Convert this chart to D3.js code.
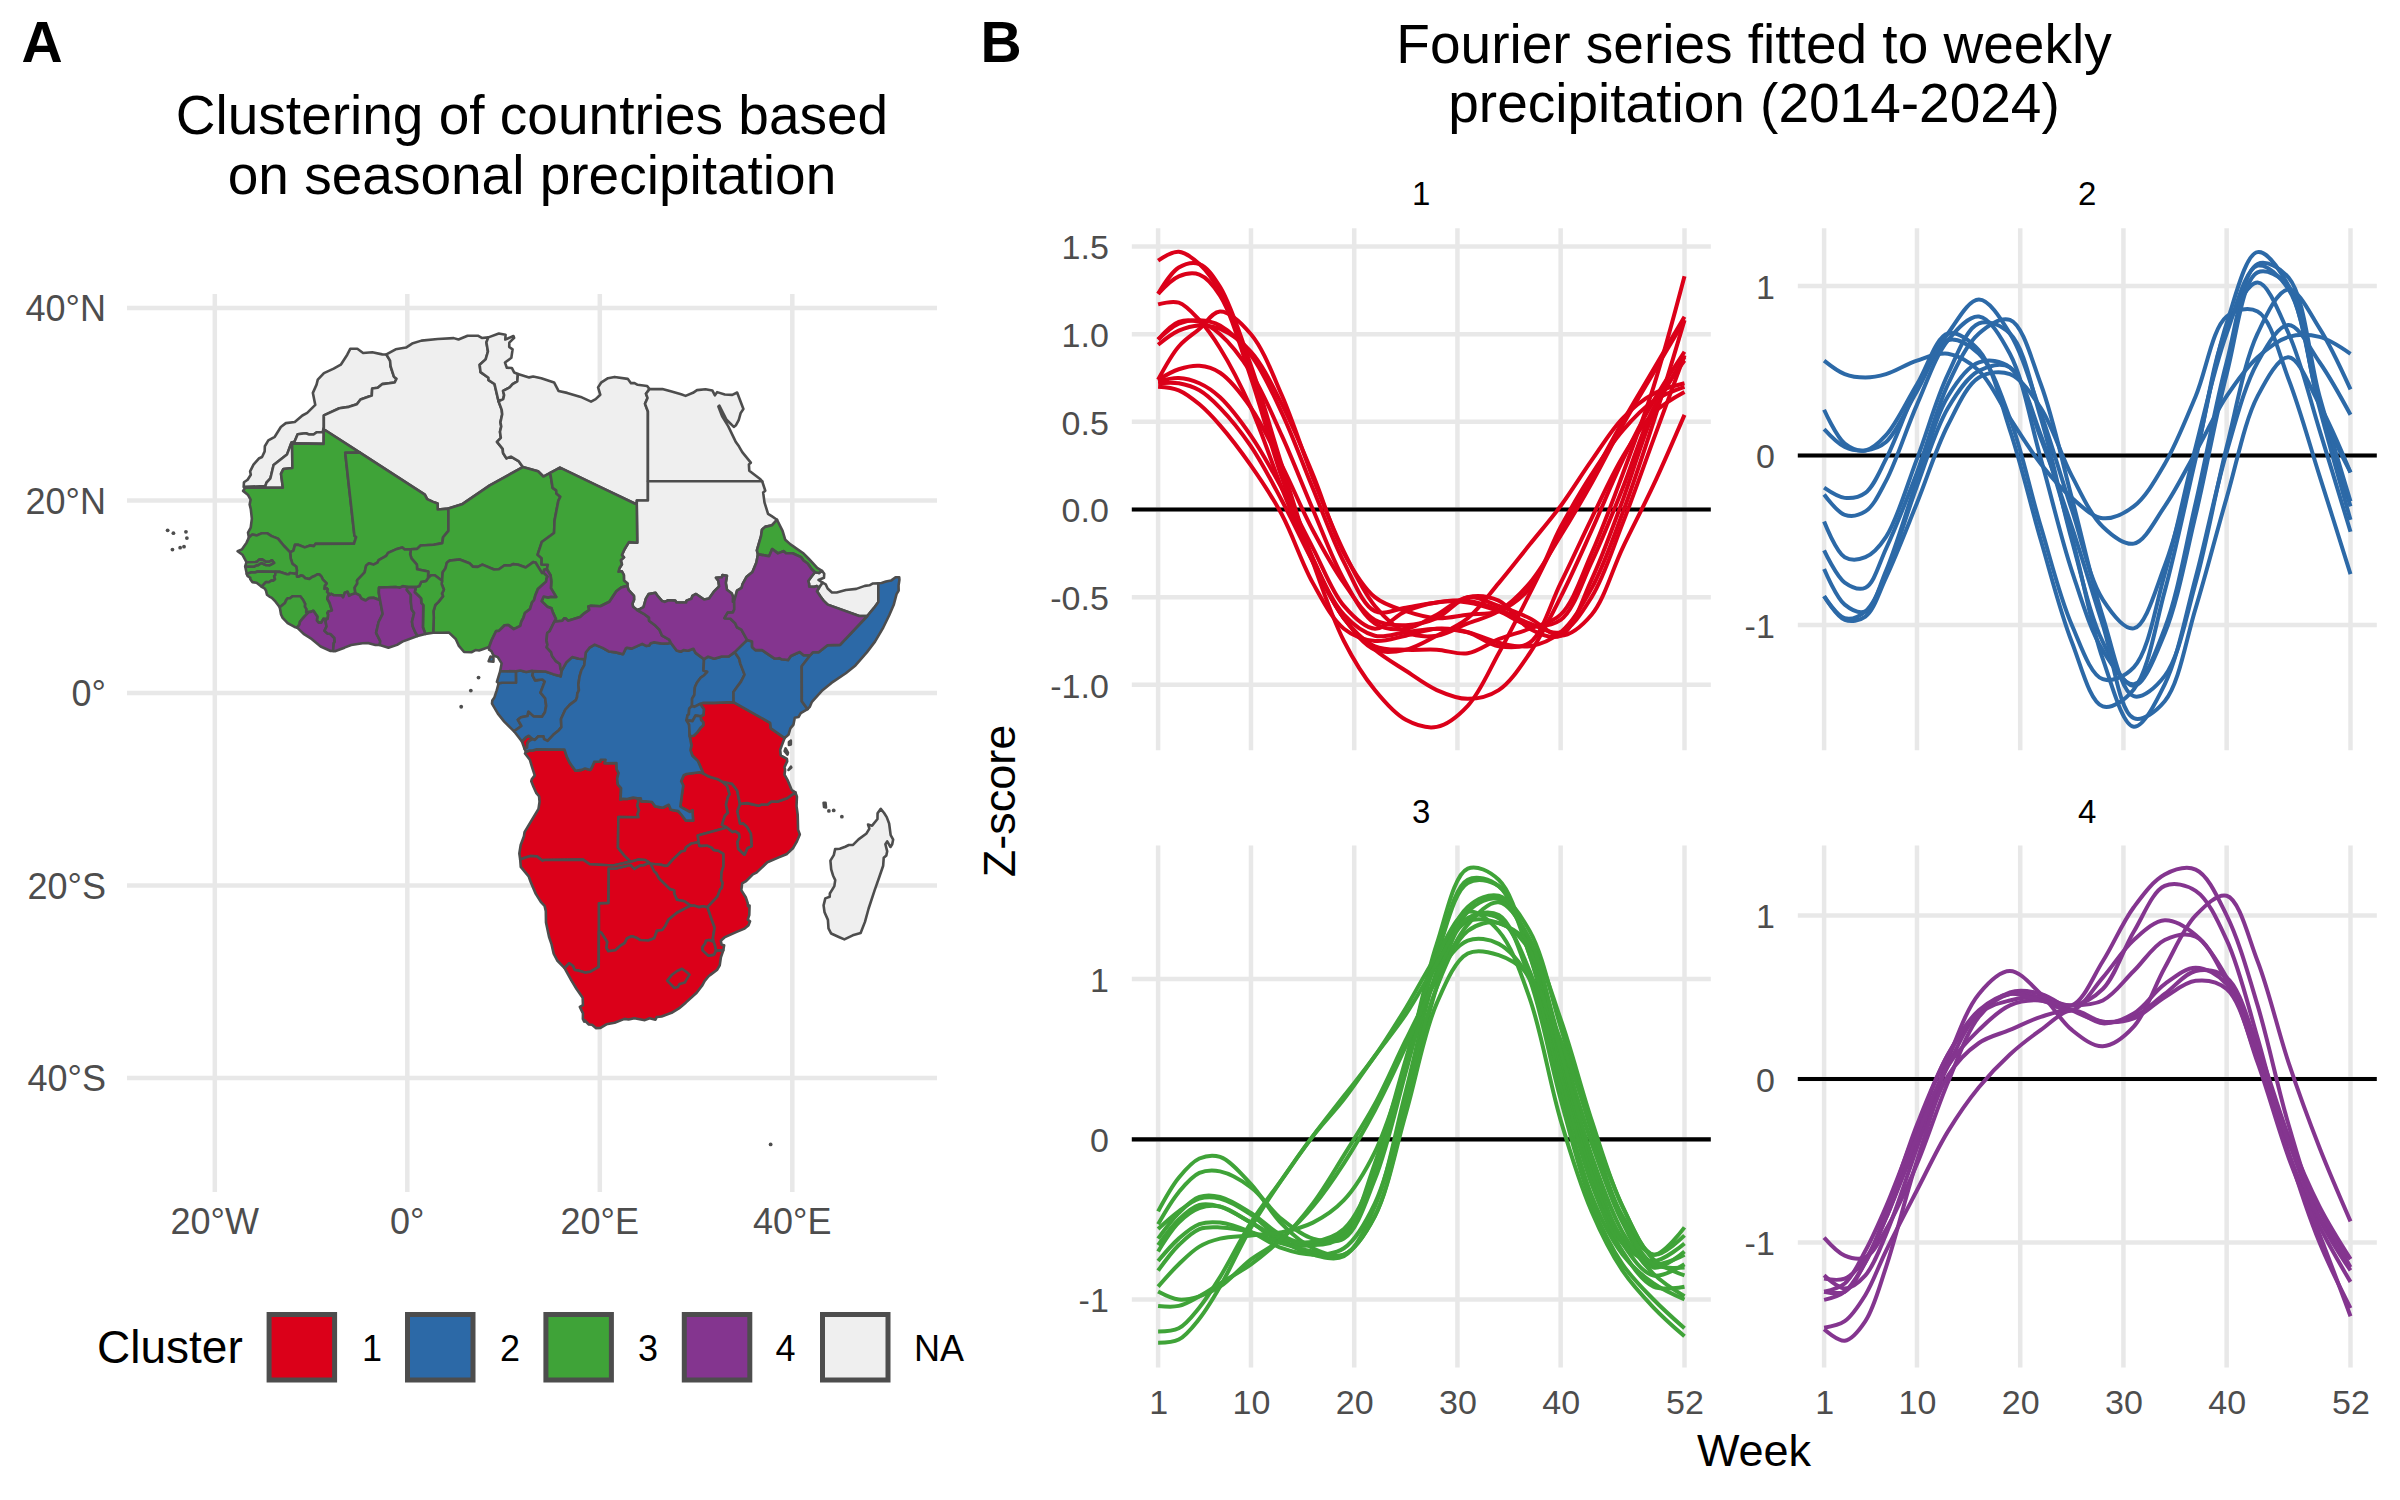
<!DOCTYPE html>
<html>
<head>
<meta charset="utf-8">
<script src="https://cdn.jsdelivr.net/npm/d3@7"></script>
<style>
html,body{margin:0;padding:0;background:#fff;}
text{font-family:"Liberation Sans",Arial,sans-serif;}
</style>
</head>
<body>
<div id="chart"></div>
<script>
// country outlines, lon/lat
var AGO=[[16.33,-5.88],[16.57,-6.62],[16.86,-7.22],[17.09,-7.55],[17.47,-8.07],[18.13,-7.99],[18.46,-7.85],[19.02,-7.99],[19.17,-7.74],[19.42,-7.16],[20.04,-7.12],[20.09,-6.94],[20.6,-6.94],[20.51,-7.3],[21.73,-7.29],[21.75,-7.92],[21.95,-8.31],[21.8,-8.91],[21.88,-9.52],[22.21,-9.89],[22.16,-11.08],[22.4,-10.99],[22.84,-11.02],[23.46,-10.87],[23.91,-10.93],[24.02,-11.24],[23.9,-11.72],[24.08,-12.19],[23.93,-12.57],[24.02,-12.91],[21.93,-12.9],[21.89,-16.08],[22.56,-16.9],[23.22,-17.52],[21.38,-17.93],[18.96,-17.79],[18.26,-17.31],[14.21,-17.35],[14.06,-17.42],[13.46,-16.97],[12.81,-16.94],[12.22,-17.11],[11.73,-17.3],[11.64,-16.67],[11.78,-15.79],[12.12,-14.88],[12.18,-14.45],[13.63,-12.04],[13.74,-11.3],[13.69,-10.73],[13.39,-10.37],[13.12,-9.77],[12.88,-9.17],[12.93,-8.96],[13.24,-8.56],[12.93,-7.6],[12.73,-6.93],[12.23,-6.29],[12.32,-6.1],[12.74,-5.97],[13.02,-5.98],[13.38,-5.86],[16.33,-5.88]];
var CABINDA=[[12.44,-5.68],[12.18,-5.79],[11.91,-5.04],[12.32,-4.61],[12.62,-4.44],[13,-4.78],[12.63,-4.99],[12.47,-5.25],[12.44,-5.68]];
var BEN=[[2.69,6.26],[1.87,6.14],[1.62,6.83],[1.66,9.13],[1.46,9.33],[1.43,9.83],[1.08,10.18],[.77,10.47],[.9,11],[1.24,11.11],[1.45,11.55],[1.94,11.64],[2.15,11.94],[2.49,12.23],[2.85,12.24],[3.61,11.66],[3.57,11.33],[3.8,10.73],[3.6,10.33],[3.71,10.06],[3.22,9.44],[2.91,9.14],[2.72,8.51],[2.75,7.87],[2.69,6.26]];
var BFA=[[-2.83,9.64],[-3.51,9.9],[-3.98,9.86],[-4.33,9.61],[-4.78,9.82],[-4.95,10.15],[-5.4,10.37],[-5.47,10.95],[-5.2,11.38],[-5.22,11.71],[-4.43,12.54],[-4.28,13.23],[-4.01,13.47],[-3.52,13.34],[-3.1,13.54],[-2.97,13.8],[-2.19,14.25],[-2,14.56],[-1.07,14.97],[-.52,15.12],[-.27,14.92],[.37,14.93],[.3,14.44],[.43,13.99],[.99,13.34],[1.02,12.85],[2.18,12.63],[2.15,11.94],[1.94,11.64],[1.45,11.55],[1.24,11.11],[.9,11],[.02,11.02],[-.44,11.1],[-.76,10.94],[-1.2,11.01],[-2.94,10.96],[-2.96,10.4],[-2.83,9.64]];
var BDI=[[29.34,-4.5],[29.28,-3.29],[29.02,-2.84],[29.63,-2.92],[29.94,-2.35],[30.47,-2.41],[30.53,-2.81],[30.74,-3.03],[30.75,-3.36],[30.51,-3.57],[30.12,-4.09],[29.75,-4.45],[29.34,-4.5]];
var BWA=[[25.65,-18.54],[25.85,-18.71],[26.16,-19.29],[27.3,-20.39],[27.72,-20.5],[27.73,-20.85],[28.02,-21.49],[28.79,-21.64],[29.43,-22.09],[28.02,-22.83],[27.12,-23.57],[26.79,-24.24],[26.49,-24.62],[25.94,-24.7],[25.77,-25.17],[25.66,-25.49],[25.03,-25.72],[24.21,-25.67],[23.73,-25.39],[23.31,-25.27],[22.82,-25.5],[22.58,-25.98],[22.11,-26.28],[21.61,-26.73],[20.89,-26.83],[20.67,-26.48],[20.76,-25.87],[20.17,-24.92],[19.9,-24.77],[19.9,-21.85],[20.88,-21.81],[20.91,-18.25],[21.66,-18.22],[23.2,-17.87],[23.58,-18.28],[24.22,-17.89],[24.52,-17.89],[25.08,-17.66],[25.26,-17.74],[25.65,-18.54]];
var CAF=[[15.28,7.42],[16.11,7.5],[16.29,7.75],[16.46,7.73],[16.71,7.51],[17.96,7.89],[18.39,8.28],[18.91,8.63],[18.81,8.98],[19.09,9.07],[20.06,9.01],[21,9.48],[21.72,10.57],[22.23,10.97],[22.86,11.14],[22.98,10.71],[23.55,10.09],[23.56,9.68],[23.39,9.27],[23.46,8.95],[23.81,8.67],[24.57,8.23],[25.11,7.83],[25.12,7.5],[25.8,6.98],[26.21,6.55],[26.47,5.95],[27.21,5.55],[27.37,5.23],[27.04,5.13],[26.4,5.15],[25.65,5.26],[25.28,5.17],[25.13,4.93],[24.81,4.9],[24.41,5.11],[23.3,4.61],[22.84,4.71],[22.7,4.63],[22.41,4.03],[21.66,4.22],[20.93,4.32],[20.29,4.69],[19.47,5.03],[18.93,4.71],[18.54,4.2],[18.45,3.5],[17.81,3.56],[17.13,3.73],[16.54,3.2],[16.01,2.27],[15.91,2.56],[15.86,3.01],[15.41,3.34],[15.04,3.85],[14.95,4.21],[14.48,4.73],[14.56,5.03],[14.46,5.45],[14.54,6.23],[14.78,6.41],[15.28,7.42]];
var CIV=[[-2.86,4.99],[-3.31,4.98],[-4.01,5.18],[-4.65,5.17],[-5.83,4.99],[-6.53,4.71],[-7.52,4.34],[-7.71,4.36],[-7.64,5.19],[-7.54,5.31],[-7.57,5.71],[-7.99,6.13],[-8.31,6.19],[-8.6,6.47],[-8.39,6.91],[-8.49,7.4],[-8.44,7.69],[-8.28,7.69],[-8.22,8.12],[-8.3,8.32],[-8.2,8.46],[-7.83,8.58],[-8.08,9.38],[-8.31,9.79],[-8.23,10.13],[-8.03,10.21],[-7.9,10.3],[-7.62,10.15],[-6.85,10.14],[-6.67,9.94],[-6.49,10.41],[-6.21,10.52],[-6.05,10.1],[-5.82,10.22],[-5.4,10.37],[-4.95,10.15],[-4.78,9.82],[-4.33,9.61],[-3.98,9.86],[-3.51,9.9],[-2.83,9.64],[-2.56,8.22],[-2.98,7.38],[-3.24,6.25],[-2.81,5.39],[-2.86,4.99]];
var CMR=[[13.08,2.27],[12.95,2.32],[12.36,2.19],[11.75,2.33],[11.28,2.26],[9.65,2.28],[9.8,3.07],[9.4,3.73],[8.95,3.9],[8.74,4.35],[8.49,4.5],[8.5,4.77],[8.76,5.48],[9.23,6.44],[9.52,6.45],[10.12,7.04],[10.5,7.06],[11.06,6.64],[11.75,6.98],[11.84,7.4],[12.06,7.8],[12.22,8.31],[12.75,8.72],[12.96,9.42],[13.17,9.64],[13.31,10.16],[13.57,10.8],[14.42,11.57],[14.47,11.9],[14.58,12.09],[14.18,12.48],[14.21,12.8],[14.5,12.86],[14.89,12.22],[14.96,11.56],[14.92,10.89],[15.47,9.98],[14.91,9.99],[14.63,9.92],[14.17,10.02],[13.95,9.55],[14.54,8.97],[14.98,8.8],[15.12,8.38],[15.44,7.69],[15.28,7.42],[14.78,6.41],[14.54,6.23],[14.46,5.45],[14.56,5.03],[14.48,4.73],[14.95,4.21],[15.04,3.85],[15.41,3.34],[15.86,3.01],[15.91,2.56],[16.01,2.27],[15.94,1.73],[15.15,1.96],[14.34,2.23],[13.08,2.27]];
var COD=[[30.83,3.51],[30.77,2.34],[31.17,2.2],[30.85,1.85],[30.47,1.58],[30.09,1.06],[29.88,.6],[29.82,-.21],[29.59,-.59],[29.58,-1.34],[29.29,-1.62],[29.25,-2.22],[29.12,-2.29],[29.02,-2.84],[29.28,-3.29],[29.34,-4.5],[29.52,-5.42],[29.42,-5.94],[29.62,-6.52],[30.2,-7.08],[30.74,-8.34],[30.35,-8.24],[29,-8.41],[28.73,-8.53],[28.45,-9.16],[28.67,-9.61],[28.5,-10.79],[28.37,-11.79],[28.64,-11.97],[29.34,-12.36],[29.62,-12.18],[29.7,-13.26],[28.93,-13.25],[28.52,-12.7],[28.16,-12.27],[27.39,-12.13],[27.16,-11.61],[26.55,-11.92],[25.75,-11.78],[25.42,-11.33],[24.78,-11.24],[24.31,-11.26],[24.26,-10.95],[23.91,-10.93],[23.46,-10.87],[22.84,-11.02],[22.4,-10.99],[22.16,-11.08],[22.21,-9.89],[21.88,-9.52],[21.8,-8.91],[21.95,-8.31],[21.75,-7.92],[21.73,-7.29],[20.51,-7.3],[20.6,-6.94],[20.09,-6.94],[20.04,-7.12],[19.42,-7.16],[19.17,-7.74],[19.02,-7.99],[18.46,-7.85],[18.13,-7.99],[17.47,-8.07],[17.09,-7.55],[16.86,-7.22],[16.57,-6.62],[16.33,-5.88],[13.38,-5.86],[13.02,-5.98],[12.74,-5.97],[12.32,-6.1],[12.18,-5.79],[12.44,-5.68],[12.47,-5.25],[12.63,-4.99],[13,-4.78],[13.26,-4.88],[13.6,-4.5],[14.14,-4.51],[14.21,-4.79],[14.58,-4.97],[15.17,-4.34],[15.75,-3.86],[16.01,-3.54],[15.97,-2.71],[16.41,-1.74],[16.87,-1.23],[17.52,-.74],[17.64,-.42],[17.66,-.06],[17.83,.29],[17.77,.86],[17.9,1.74],[18.09,2.37],[18.39,2.9],[18.45,3.5],[18.54,4.2],[18.93,4.71],[19.47,5.03],[20.29,4.69],[20.93,4.32],[21.66,4.22],[22.41,4.03],[22.7,4.63],[22.84,4.71],[23.3,4.61],[24.41,5.11],[24.81,4.9],[25.13,4.93],[25.28,5.17],[25.65,5.26],[26.4,5.15],[27.04,5.13],[27.37,5.23],[27.98,4.41],[28.43,4.29],[28.7,4.46],[29.16,4.39],[29.72,4.6],[29.95,4.17],[30.83,3.51]];
var COG=[[13,-4.78],[12.62,-4.44],[12.32,-4.61],[11.91,-5.04],[11.09,-3.98],[11.86,-3.43],[11.48,-2.77],[11.82,-2.51],[12.5,-2.39],[12.58,-1.95],[13.11,-2.43],[13.99,-2.47],[14.3,-2],[14.43,-1.33],[14.32,-.55],[13.84,.04],[14.28,1.2],[14.03,1.4],[13.28,1.31],[13,1.83],[13.08,2.27],[14.34,2.23],[15.15,1.96],[15.94,1.73],[16.01,2.27],[16.54,3.2],[17.13,3.73],[17.81,3.56],[18.45,3.5],[18.39,2.9],[18.09,2.37],[17.9,1.74],[17.77,.86],[17.83,.29],[17.66,-.06],[17.64,-.42],[17.52,-.74],[16.87,-1.23],[16.41,-1.74],[15.97,-2.71],[16.01,-3.54],[15.75,-3.86],[15.17,-4.34],[14.58,-4.97],[14.21,-4.79],[14.14,-4.51],[13.6,-4.5],[13.26,-4.88],[13,-4.78]];
var DJI=[[43.08,12.7],[43.32,12.39],[43.29,11.97],[42.72,11.74],[43.15,11.46],[42.78,10.93],[42.55,11.11],[42.31,11.03],[41.76,11.05],[41.74,11.36],[41.66,11.63],[42,12.1],[42.35,12.54],[42.78,12.46],[43.08,12.7]];
var DZA=[[12,23.47],[8.57,21.57],[5.68,19.6],[4.27,19.16],[3.16,19.06],[3.15,19.69],[2.68,19.86],[2.06,20.14],[1.82,20.61],[-1.55,22.79],[-4.92,24.97],[-8.68,27.4],[-8.67,27.59],[-8.67,27.66],[-8.67,28.84],[-7.06,29.58],[-6.06,29.73],[-5.24,30],[-4.86,30.5],[-3.69,30.9],[-3.65,31.64],[-3.07,31.72],[-2.62,32.09],[-1.31,32.26],[-1.12,32.65],[-1.39,32.86],[-1.73,33.92],[-1.79,34.53],[-2.17,35.17],[-1.21,35.71],[-.13,35.89],[.5,36.3],[1.47,36.61],[3.16,36.78],[4.82,36.87],[5.32,36.72],[6.26,37.11],[7.33,37.12],[7.74,36.89],[8.42,36.95],[8.22,36.43],[8.38,35.48],[8.14,34.66],[7.52,34.1],[7.61,33.34],[8.43,32.75],[8.44,32.51],[9.06,32.1],[9.48,30.31],[9.81,29.42],[9.86,28.96],[9.68,28.14],[9.76,27.69],[9.63,27.14],[9.72,26.51],[9.32,26.09],[9.91,25.37],[9.95,24.94],[10.3,24.38],[10.77,24.56],[11.56,24.1],[12,23.47]];
var EGY=[[34.92,29.5],[34.64,29.1],[34.43,28.34],[34.15,27.82],[33.92,27.65],[33.59,27.97],[33.14,28.42],[32.42,29.85],[32.32,29.76],[32.73,28.71],[33.35,27.7],[34.1,26.14],[34.47,25.6],[34.8,25.03],[35.69,23.93],[35.49,23.75],[35.53,23.1],[36.69,22.2],[36.87,22],[32.9,22],[29.02,22],[25,22],[25,25.68],[25,29.24],[24.7,30.04],[24.96,30.66],[24.8,31.09],[25.16,31.57],[26.5,31.59],[27.46,31.32],[28.45,31.03],[28.91,30.87],[29.68,31.19],[30.1,31.47],[30.98,31.56],[31.69,31.43],[31.96,30.93],[32.19,31.26],[32.99,31.02],[33.77,30.97],[34.27,31.22],[34.92,29.5]];
var ERI=[[42.35,12.54],[42.01,12.87],[41.6,13.45],[41.16,13.77],[40.9,14.12],[40.03,14.52],[39.34,14.53],[39.1,14.74],[38.51,14.51],[37.91,14.96],[37.59,14.21],[36.43,14.42],[36.32,14.82],[36.75,16.29],[36.85,16.96],[37.17,17.26],[37.9,17.43],[38.41,18],[38.99,16.84],[39.27,15.92],[39.81,15.44],[41.18,14.49],[41.73,13.92],[42.28,13.34],[42.59,13],[43.08,12.7],[42.78,12.46],[42.35,12.54]];
var ESH=[[-8.79,27.12],[-8.67,27.3],[-8.69,25.88],[-11.97,25.93],[-11.94,23.37],[-12.87,23.28],[-13.12,22.77],[-12.93,21.33],[-14.71,21.33],[-14.75,21.5],[-14.63,21.86],[-14.22,22.31],[-13.89,23.69],[-12.5,24.77],[-12.03,26.03],[-11.72,26.1],[-11.39,26.88],[-10.55,26.99],[-10.19,26.86],[-9.74,26.86],[-9.41,27.09],[-8.79,27.12]];
var ETH=[[37.91,14.96],[38.51,14.51],[39.1,14.74],[39.34,14.53],[40.03,14.52],[40.9,14.12],[41.16,13.77],[41.6,13.45],[42.01,12.87],[42.35,12.54],[42,12.1],[41.66,11.63],[41.74,11.36],[41.76,11.05],[42.31,11.03],[42.55,11.11],[42.78,10.93],[42.56,10.57],[42.93,10.02],[43.3,9.54],[43.68,9.18],[46.95,8],[47.79,8],[44.96,5],[43.66,4.96],[42.77,4.25],[42.13,4.23],[41.86,3.92],[41.17,3.92],[40.77,4.26],[39.85,3.84],[39.56,3.42],[38.89,3.5],[38.67,3.62],[38.44,3.59],[38.12,3.6],[36.86,4.45],[36.16,4.45],[35.82,4.78],[35.82,5.34],[35.3,5.51],[34.71,6.59],[34.25,6.83],[34.08,7.23],[33.57,7.71],[32.95,7.78],[33.29,8.35],[33.83,8.38],[33.97,8.68],[33.96,9.58],[34.26,10.63],[34.73,10.91],[34.83,11.32],[35.26,12.08],[35.86,12.58],[36.27,13.56],[36.43,14.42],[37.59,14.21],[37.91,14.96]];
var GAB=[[11.09,-3.98],[10.07,-2.97],[9.41,-2.14],[8.8,-1.11],[8.83,-.78],[9.05,-.46],[9.29,.27],[9.49,1.01],[9.83,1.07],[11.29,1.06],[11.28,2.26],[11.75,2.33],[12.36,2.19],[12.95,2.32],[13.08,2.27],[13,1.83],[13.28,1.31],[14.03,1.4],[14.28,1.2],[13.84,.04],[14.32,-.55],[14.43,-1.33],[14.3,-2],[13.99,-2.47],[13.11,-2.43],[12.58,-1.95],[12.5,-2.39],[11.82,-2.51],[11.48,-2.77],[11.86,-3.43],[11.09,-3.98]];
var GHA=[[1.06,5.93],[-.51,5.34],[-1.06,5],[-1.96,4.71],[-2.86,4.99],[-2.81,5.39],[-3.24,6.25],[-2.98,7.38],[-2.56,8.22],[-2.83,9.64],[-2.96,10.4],[-2.94,10.96],[-1.2,11.01],[-.76,10.94],[-.44,11.1],[.02,11.02],[-.05,10.71],[.37,10.19],[.37,9.47],[.46,8.68],[.71,8.31],[.49,7.41],[.57,6.91],[.84,6.28],[1.06,5.93]];
var GIN=[[-8.44,7.69],[-8.72,7.71],[-8.93,7.31],[-9.21,7.31],[-9.4,7.53],[-9.34,7.93],[-9.76,8.54],[-10.02,8.43],[-10.23,8.41],[-10.51,8.35],[-10.49,8.72],[-10.65,8.98],[-10.62,9.27],[-10.84,9.69],[-11.12,10.05],[-11.92,10.05],[-12.15,9.86],[-12.43,9.84],[-12.6,9.62],[-12.71,9.34],[-13.25,8.9],[-13.69,9.49],[-14.07,9.89],[-14.33,10.02],[-14.58,10.21],[-14.69,10.66],[-14.84,10.88],[-15.13,11.04],[-14.69,11.53],[-14.38,11.51],[-14.12,11.68],[-13.9,11.68],[-13.74,11.81],[-13.83,12.14],[-13.72,12.25],[-13.7,12.59],[-13.22,12.58],[-12.5,12.33],[-12.28,12.35],[-12.2,12.47],[-11.66,12.39],[-11.51,12.44],[-11.46,12.08],[-11.3,12.08],[-11.04,12.21],[-10.87,12.18],[-10.59,11.92],[-10.17,11.84],[-9.89,12.06],[-9.57,12.19],[-9.33,12.33],[-9.13,12.31],[-8.91,12.09],[-8.79,11.81],[-8.38,11.39],[-8.58,11.14],[-8.62,10.81],[-8.41,10.91],[-8.28,10.79],[-8.34,10.49],[-8.03,10.21],[-8.23,10.13],[-8.31,9.79],[-8.08,9.38],[-7.83,8.58],[-8.2,8.46],[-8.3,8.32],[-8.22,8.12],[-8.28,7.69],[-8.44,7.69]];
var GMB=[[-16.84,13.15],[-16.71,13.59],[-15.62,13.62],[-15.4,13.86],[-15.08,13.88],[-14.69,13.63],[-14.38,13.63],[-14.05,13.79],[-13.84,13.51],[-14.28,13.28],[-14.71,13.3],[-15.14,13.51],[-15.51,13.28],[-15.69,13.27],[-15.93,13.13],[-16.84,13.15]];
var GNB=[[-15.13,11.04],[-15.66,11.46],[-16.09,11.52],[-16.31,11.81],[-16.31,11.96],[-16.61,12.17],[-16.68,12.38],[-16.15,12.55],[-15.82,12.52],[-15.55,12.63],[-13.7,12.59],[-13.72,12.25],[-13.83,12.14],[-13.74,11.81],[-13.9,11.68],[-14.12,11.68],[-14.38,11.51],[-14.69,11.53],[-15.13,11.04]];
var GNQ=[[9.49,1.01],[9.31,1.16],[9.65,2.28],[11.28,2.26],[11.29,1.06],[9.83,1.07],[9.49,1.01]];
var KEN=[[40.99,-.86],[41.59,-1.68],[40.88,-2.08],[40.64,-2.5],[40.26,-2.57],[40.12,-3.28],[39.8,-3.68],[39.6,-4.35],[39.2,-4.68],[37.77,-3.68],[37.7,-3.1],[34.07,-1.06],[33.9,-.95],[33.89,.11],[34.18,.52],[34.67,1.18],[35.04,1.91],[34.6,3.05],[34.48,3.56],[34.01,4.25],[34.62,4.85],[35.3,5.51],[35.82,5.34],[35.82,4.78],[36.16,4.45],[36.86,4.45],[38.12,3.6],[38.44,3.59],[38.67,3.62],[38.89,3.5],[39.56,3.42],[39.85,3.84],[40.77,4.26],[41.17,3.92],[41.86,3.92],[40.98,2.78],[40.99,-.86]];
var LBR=[[-7.71,4.36],[-7.97,4.36],[-9,4.83],[-9.91,5.59],[-10.77,6.14],[-11.44,6.79],[-11.2,7.11],[-11.15,7.4],[-10.7,7.94],[-10.23,8.41],[-10.02,8.43],[-9.76,8.54],[-9.34,7.93],[-9.4,7.53],[-9.21,7.31],[-8.93,7.31],[-8.72,7.71],[-8.44,7.69],[-8.49,7.4],[-8.39,6.91],[-8.6,6.47],[-8.31,6.19],[-7.99,6.13],[-7.57,5.71],[-7.54,5.31],[-7.64,5.19],[-7.71,4.36]];
var LBY=[[14.85,22.86],[14.14,22.49],[13.58,23.04],[12,23.47],[11.56,24.1],[10.77,24.56],[10.3,24.38],[9.95,24.94],[9.91,25.37],[9.32,26.09],[9.72,26.51],[9.63,27.14],[9.76,27.69],[9.68,28.14],[9.86,28.96],[9.81,29.42],[9.48,30.31],[9.97,30.54],[10.06,30.96],[9.95,31.38],[10.64,31.76],[10.94,32.08],[11.43,32.37],[11.49,33.14],[12.66,32.79],[13.08,32.88],[13.92,32.71],[15.25,32.27],[15.71,31.38],[16.61,31.18],[18.02,30.76],[19.09,30.27],[19.57,30.53],[20.05,30.99],[19.82,31.75],[20.13,32.24],[20.85,32.71],[21.54,32.84],[22.9,32.64],[23.24,32.19],[23.61,32.19],[23.93,32.02],[24.92,31.9],[25.16,31.57],[24.8,31.09],[24.96,30.66],[24.7,30.04],[25,29.24],[25,25.68],[25,22],[25,20],[23.85,20],[23.84,19.58],[19.85,21.5],[15.86,23.41],[14.85,22.86]];
var LSO=[[28.98,-28.96],[29.33,-29.26],[29.02,-29.74],[28.85,-30.07],[28.29,-30.23],[28.11,-30.55],[27.75,-30.65],[27,-29.88],[27.53,-29.24],[28.07,-28.85],[28.54,-28.65],[28.98,-28.96]];
var MAR=[[-5.19,35.76],[-4.59,35.33],[-3.64,35.4],[-2.6,35.18],[-2.17,35.17],[-1.79,34.53],[-1.73,33.92],[-1.39,32.86],[-1.12,32.65],[-1.31,32.26],[-2.62,32.09],[-3.07,31.72],[-3.65,31.64],[-3.69,30.9],[-4.86,30.5],[-5.24,30],[-6.06,29.73],[-7.06,29.58],[-8.67,28.84],[-8.67,27.66],[-8.79,27.12],[-9.41,27.09],[-9.74,26.86],[-10.19,26.86],[-10.55,26.99],[-11.39,26.88],[-11.72,26.1],[-12.03,26.03],[-12.5,24.77],[-13.89,23.69],[-14.22,22.31],[-14.63,21.86],[-14.75,21.5],[-17,21.42],[-16.97,21.89],[-16.59,22.16],[-16.26,22.68],[-16.33,23.02],[-15.98,23.72],[-15.43,24.36],[-15.09,24.52],[-14.82,25.1],[-14.8,25.64],[-14.44,26.25],[-13.77,26.62],[-13.14,27.64],[-12.62,28.04],[-11.69,28.15],[-10.9,28.83],[-10.4,29.1],[-9.56,29.93],[-9.81,31.18],[-9.43,32.04],[-9.3,32.56],[-8.66,33.24],[-7.65,33.7],[-6.91,34.11],[-6.24,35.15],[-5.93,35.76],[-5.19,35.76]];
var MDG=[[49.54,-12.47],[49.81,-12.9],[50.06,-13.56],[50.22,-14.76],[50.48,-15.23],[50.38,-15.71],[50.2,-16],[49.86,-15.41],[49.67,-15.71],[49.86,-16.45],[49.77,-16.88],[49.5,-17.11],[49.44,-17.95],[49.04,-19.12],[48.55,-20.5],[47.93,-22.39],[47.55,-23.78],[47.1,-24.94],[46.28,-25.18],[45.41,-25.6],[44.83,-25.35],[44.04,-24.99],[43.76,-24.46],[43.7,-23.57],[43.35,-22.78],[43.25,-22.06],[43.43,-21.34],[43.89,-21.16],[43.9,-20.83],[44.37,-20.07],[44.46,-19.44],[44.23,-18.96],[44.04,-18.33],[43.96,-17.41],[44.31,-16.85],[44.45,-16.22],[44.94,-16.18],[45.5,-15.97],[45.87,-15.79],[46.31,-15.78],[46.88,-15.21],[47.71,-14.59],[48.01,-14.09],[47.87,-13.66],[48.29,-13.78],[48.85,-13.09],[48.86,-12.49],[49.19,-12.04],[49.54,-12.47]];
var MLI=[[-12.17,14.62],[-11.83,14.8],[-11.67,15.39],[-11.35,15.41],[-10.65,15.13],[-10.09,15.33],[-9.7,15.26],[-9.55,15.49],[-5.54,15.5],[-5.32,16.2],[-5.49,16.33],[-5.97,20.64],[-6.45,24.96],[-4.92,24.97],[-1.55,22.79],[1.82,20.61],[2.06,20.14],[2.68,19.86],[3.15,19.69],[3.16,19.06],[4.27,19.16],[4.27,16.85],[3.72,16.18],[3.64,15.57],[2.75,15.41],[1.39,15.32],[1.02,14.97],[.37,14.93],[-.27,14.92],[-.52,15.12],[-1.07,14.97],[-2,14.56],[-2.19,14.25],[-2.97,13.8],[-3.1,13.54],[-3.52,13.34],[-4.01,13.47],[-4.28,13.23],[-4.43,12.54],[-5.22,11.71],[-5.2,11.38],[-5.47,10.95],[-5.4,10.37],[-5.82,10.22],[-6.05,10.1],[-6.21,10.52],[-6.49,10.41],[-6.67,9.94],[-6.85,10.14],[-7.62,10.15],[-7.9,10.3],[-8.03,10.21],[-8.34,10.49],[-8.28,10.79],[-8.41,10.91],[-8.62,10.81],[-8.58,11.14],[-8.38,11.39],[-8.79,11.81],[-8.91,12.09],[-9.13,12.31],[-9.33,12.33],[-9.57,12.19],[-9.89,12.06],[-10.17,11.84],[-10.59,11.92],[-10.87,12.18],[-11.04,12.21],[-11.3,12.08],[-11.46,12.08],[-11.51,12.44],[-11.47,12.75],[-11.55,13.14],[-11.93,13.42],[-12.12,13.99],[-12.17,14.62]];
var MOZ=[[34.56,-11.52],[35.31,-11.44],[36.51,-11.72],[36.78,-11.59],[37.47,-11.57],[37.83,-11.27],[38.43,-11.29],[39.52,-10.9],[40.32,-10.32],[40.48,-10.77],[40.44,-11.76],[40.56,-12.64],[40.6,-14.2],[40.78,-14.69],[40.48,-15.41],[40.09,-16.1],[39.45,-16.72],[38.54,-17.1],[37.41,-17.59],[36.28,-18.66],[35.9,-18.84],[35.2,-19.55],[34.79,-19.78],[34.7,-20.5],[35.18,-21.25],[35.37,-21.84],[35.39,-22.14],[35.56,-22.09],[35.53,-23.07],[35.37,-23.54],[35.61,-23.71],[35.46,-24.12],[35.04,-24.48],[34.22,-24.82],[33.01,-25.36],[32.57,-25.73],[32.66,-26.15],[32.92,-26.22],[32.83,-26.74],[32.07,-26.73],[31.99,-26.29],[31.84,-25.84],[31.75,-25.48],[31.93,-24.37],[31.67,-23.66],[31.19,-22.25],[32.24,-21.12],[32.51,-20.4],[32.66,-20.3],[32.77,-19.72],[32.61,-19.42],[32.65,-18.67],[32.85,-17.98],[32.85,-16.71],[32.33,-16.39],[31.85,-16.32],[31.64,-16.07],[31.17,-15.86],[30.34,-15.88],[30.27,-15.51],[30.18,-14.8],[33.21,-13.97],[33.79,-14.45],[34.06,-14.36],[34.46,-14.61],[34.52,-15.01],[34.31,-15.48],[34.38,-16.18],[35.03,-16.8],[35.34,-16.11],[35.77,-15.9],[35.69,-14.61],[35.27,-13.89],[34.91,-13.57],[34.56,-13.58],[34.28,-12.28],[34.56,-11.52]];
var MRT=[[-12.17,14.62],[-12.83,15.3],[-13.44,16.04],[-14.1,16.3],[-14.58,16.6],[-15.14,16.59],[-15.62,16.37],[-16.12,16.46],[-16.46,16.14],[-16.55,16.67],[-16.27,17.17],[-16.15,18.11],[-16.26,19.1],[-16.38,19.59],[-16.28,20.09],[-16.54,20.57],[-17.06,21],[-16.85,21.33],[-12.93,21.33],[-13.12,22.77],[-12.87,23.28],[-11.94,23.37],[-11.97,25.93],[-8.69,25.88],[-8.68,27.4],[-4.92,24.97],[-6.45,24.96],[-5.97,20.64],[-5.49,16.33],[-5.32,16.2],[-5.54,15.5],[-9.55,15.49],[-9.7,15.26],[-10.09,15.33],[-10.65,15.13],[-11.35,15.41],[-11.67,15.39],[-11.83,14.8],[-12.17,14.62]];
var MWI=[[34.56,-11.52],[34.28,-12.28],[34.56,-13.58],[34.91,-13.57],[35.27,-13.89],[35.69,-14.61],[35.77,-15.9],[35.34,-16.11],[35.03,-16.8],[34.38,-16.18],[34.31,-15.48],[34.52,-15.01],[34.46,-14.61],[34.06,-14.36],[33.79,-14.45],[33.21,-13.97],[32.69,-13.71],[32.99,-12.78],[33.31,-12.44],[33.11,-11.61],[33.32,-10.8],[33.49,-10.53],[33.23,-9.68],[32.76,-9.23],[33.74,-9.42],[33.94,-9.69],[34.28,-10.16],[34.56,-11.52]];
var NAM=[[16.34,-28.58],[15.6,-27.82],[15.21,-27.09],[14.99,-26.12],[14.74,-25.39],[14.41,-23.85],[14.39,-22.66],[14.26,-22.11],[13.87,-21.7],[13.35,-20.87],[12.83,-19.67],[12.61,-19.05],[11.79,-18.07],[11.73,-17.3],[12.22,-17.11],[12.81,-16.94],[13.46,-16.97],[14.06,-17.42],[14.21,-17.35],[18.26,-17.31],[18.96,-17.79],[21.38,-17.93],[23.22,-17.52],[24.03,-17.3],[24.68,-17.35],[25.08,-17.58],[25.08,-17.66],[24.52,-17.89],[24.22,-17.89],[23.58,-18.28],[23.2,-17.87],[21.66,-18.22],[20.91,-18.25],[20.88,-21.81],[19.9,-21.85],[19.9,-24.77],[19.89,-28.46],[19,-28.97],[18.46,-29.05],[17.84,-28.86],[17.39,-28.78],[17.22,-28.36],[16.82,-28.08],[16.34,-28.58]];
var NER=[[2.15,11.94],[2.18,12.63],[1.02,12.85],[.99,13.34],[.43,13.99],[.3,14.44],[.37,14.93],[1.02,14.97],[1.39,15.32],[2.75,15.41],[3.64,15.57],[3.72,16.18],[4.27,16.85],[4.27,19.16],[5.68,19.6],[8.57,21.57],[12,23.47],[13.58,23.04],[14.14,22.49],[14.85,22.86],[15.1,21.31],[15.47,21.05],[15.49,20.73],[15.9,20.39],[15.69,19.96],[15.3,17.93],[15.25,16.63],[13.97,15.68],[13.54,14.37],[13.96,14],[13.95,13.35],[14.6,13.33],[14.5,12.86],[14.21,12.8],[14.18,12.48],[14,12.46],[13.32,13.56],[13.08,13.6],[12.3,13.04],[11.53,13.33],[10.99,13.39],[10.7,13.25],[10.11,13.28],[9.52,12.85],[9.01,12.83],[7.8,13.34],[7.33,13.1],[6.82,13.12],[6.45,13.49],[5.44,13.87],[4.37,13.75],[4.11,13.53],[3.97,12.96],[3.68,12.55],[3.61,11.66],[2.85,12.24],[2.49,12.23],[2.15,11.94]];
var NGA=[[8.5,4.77],[7.46,4.41],[7.08,4.46],[6.7,4.24],[5.9,4.26],[5.36,4.89],[5.03,5.61],[4.33,6.27],[3.57,6.26],[2.69,6.26],[2.75,7.87],[2.72,8.51],[2.91,9.14],[3.22,9.44],[3.71,10.06],[3.6,10.33],[3.8,10.73],[3.57,11.33],[3.61,11.66],[3.68,12.55],[3.97,12.96],[4.11,13.53],[4.37,13.75],[5.44,13.87],[6.45,13.49],[6.82,13.12],[7.33,13.1],[7.8,13.34],[9.01,12.83],[9.52,12.85],[10.11,13.28],[10.7,13.25],[10.99,13.39],[11.53,13.33],[12.3,13.04],[13.08,13.6],[13.32,13.56],[14,12.46],[14.18,12.48],[14.58,12.09],[14.47,11.9],[14.42,11.57],[13.57,10.8],[13.31,10.16],[13.17,9.64],[12.96,9.42],[12.75,8.72],[12.22,8.31],[12.06,7.8],[11.84,7.4],[11.75,6.98],[11.06,6.64],[10.5,7.06],[10.12,7.04],[9.52,6.45],[9.23,6.44],[8.76,5.48],[8.5,4.77]];
var RWA=[[30.42,-1.13],[30.82,-1.7],[30.76,-2.29],[30.47,-2.41],[29.94,-2.35],[29.63,-2.92],[29.02,-2.84],[29.12,-2.29],[29.25,-2.22],[29.29,-1.62],[29.58,-1.34],[29.82,-1.44],[30.42,-1.13]];
var SDN=[[33.96,9.46],[33.82,9.48],[33.84,9.98],[33.72,10.33],[33.21,10.72],[33.09,11.44],[33.21,12.18],[32.74,12.25],[32.67,12.02],[32.07,11.97],[32.31,11.68],[32.4,11.08],[31.85,10.53],[31.35,9.81],[30.84,9.71],[30,10.29],[29.62,10.08],[29.52,9.79],[29,9.6],[28.97,9.4],[27.97,9.4],[27.83,9.6],[27.11,9.64],[26.75,9.47],[26.48,9.55],[25.96,10.14],[25.79,10.41],[25.07,10.27],[24.79,9.81],[24.54,8.92],[24.19,8.73],[23.89,8.62],[23.81,8.67],[23.46,8.95],[23.39,9.27],[23.56,9.68],[23.55,10.09],[22.98,10.71],[22.86,11.14],[22.88,11.38],[22.51,11.68],[22.5,12.26],[22.29,12.65],[21.94,12.59],[22.04,12.96],[22.3,13.37],[22.18,13.79],[22.51,14.09],[22.3,14.33],[22.57,14.94],[23.02,15.68],[23.89,15.61],[23.84,19.58],[23.85,20],[25,20],[25,22],[29.02,22],[32.9,22],[36.87,22],[37.19,21.02],[36.97,20.84],[37.11,19.81],[37.48,18.61],[37.86,18.37],[38.41,18],[37.9,17.43],[37.17,17.26],[36.85,16.96],[36.75,16.29],[36.32,14.82],[36.43,14.42],[36.27,13.56],[35.86,12.58],[35.26,12.08],[34.83,11.32],[34.73,10.91],[34.26,10.63],[33.96,9.58],[33.96,9.46]];
var SSD=[[33.96,9.46],[33.97,8.68],[33.83,8.38],[33.29,8.35],[32.95,7.78],[33.57,7.71],[34.08,7.23],[34.25,6.83],[34.71,6.59],[35.3,5.51],[34.62,4.85],[34.01,4.25],[33.39,3.79],[32.69,3.79],[31.88,3.56],[31.25,3.78],[30.83,3.51],[29.95,4.17],[29.72,4.6],[29.16,4.39],[28.7,4.46],[28.43,4.29],[27.98,4.41],[27.37,5.23],[27.21,5.55],[26.47,5.95],[26.21,6.55],[25.8,6.98],[25.12,7.5],[25.11,7.83],[24.57,8.23],[23.89,8.62],[24.19,8.73],[24.54,8.92],[24.79,9.81],[25.07,10.27],[25.79,10.41],[25.96,10.14],[26.48,9.55],[26.75,9.47],[27.11,9.64],[27.83,9.6],[27.97,9.4],[28.97,9.4],[29,9.6],[29.52,9.79],[29.62,10.08],[30,10.29],[30.84,9.71],[31.35,9.81],[31.85,10.53],[32.4,11.08],[32.31,11.68],[32.07,11.97],[32.67,12.02],[32.74,12.25],[33.21,12.18],[33.09,11.44],[33.21,10.72],[33.72,10.33],[33.84,9.98],[33.82,9.48],[33.96,9.46]];
var SEN=[[-16.71,13.59],[-17.13,14.37],[-17.63,14.73],[-17.19,14.92],[-16.7,15.62],[-16.46,16.14],[-16.12,16.46],[-15.62,16.37],[-15.14,16.59],[-14.58,16.6],[-14.1,16.3],[-13.44,16.04],[-12.83,15.3],[-12.17,14.62],[-12.12,13.99],[-11.93,13.42],[-11.55,13.14],[-11.47,12.75],[-11.51,12.44],[-11.66,12.39],[-12.2,12.47],[-12.28,12.35],[-12.5,12.33],[-13.22,12.58],[-13.7,12.59],[-15.55,12.63],[-15.82,12.52],[-16.15,12.55],[-16.68,12.38],[-16.84,13.15],[-15.93,13.13],[-15.69,13.27],[-15.51,13.28],[-15.14,13.51],[-14.71,13.3],[-14.28,13.28],[-13.84,13.51],[-14.05,13.79],[-14.38,13.63],[-14.69,13.63],[-15.08,13.88],[-15.4,13.86],[-15.62,13.62],[-16.71,13.59]];
var SLE=[[-11.44,6.79],[-11.71,6.86],[-12.43,7.26],[-12.95,7.8],[-13.12,8.16],[-13.25,8.9],[-12.71,9.34],[-12.6,9.62],[-12.43,9.84],[-12.15,9.86],[-11.92,10.05],[-11.12,10.05],[-10.84,9.69],[-10.62,9.27],[-10.65,8.98],[-10.49,8.72],[-10.51,8.35],[-10.23,8.41],[-10.7,7.94],[-11.15,7.4],[-11.2,7.11],[-11.44,6.79]];
var SOM=[[41.59,-1.68],[40.99,-.86],[40.98,2.78],[41.86,3.92],[42.13,4.23],[42.77,4.25],[43.66,4.96],[44.96,5],[47.79,8],[48.49,8.84],[48.94,9.45],[48.94,9.97],[48.94,10.98],[48.94,11.39],[48.95,11.41],[49.27,11.43],[49.73,11.58],[50.26,11.68],[50.73,12.02],[51.11,12.02],[51.13,11.75],[51.04,11.17],[51.05,10.64],[50.83,10.28],[50.55,9.2],[50.07,8.08],[49.45,6.8],[48.59,5.34],[47.74,4.22],[46.56,2.86],[45.56,2.05],[44.07,1.05],[43.14,.29],[42.04,-.92],[41.81,-1.45],[41.59,-1.68]];
var SOL=[[48.95,11.41],[48.94,11.39],[48.94,10.98],[48.94,9.97],[48.94,9.45],[48.49,8.84],[47.79,8],[46.95,8],[43.68,9.18],[43.3,9.54],[42.93,10.02],[42.56,10.57],[42.78,10.93],[43.15,11.46],[43.47,11.28],[43.67,10.86],[44.12,10.45],[44.61,10.44],[45.56,10.7],[46.65,10.82],[47.53,11.13],[48.02,11.19],[48.38,11.38],[48.95,11.41]];
var SWZ=[[32.07,-26.73],[31.87,-27.18],[31.28,-27.29],[30.69,-26.74],[30.68,-26.4],[30.95,-26.02],[31.04,-25.73],[31.33,-25.66],[31.84,-25.84],[31.99,-26.29],[32.07,-26.73]];
var TCD=[[14.5,12.86],[14.6,13.33],[13.95,13.35],[13.96,14],[13.54,14.37],[13.97,15.68],[15.25,16.63],[15.3,17.93],[15.69,19.96],[15.9,20.39],[15.49,20.73],[15.47,21.05],[15.1,21.31],[14.85,22.86],[15.86,23.41],[19.85,21.5],[23.84,19.58],[23.89,15.61],[23.02,15.68],[22.57,14.94],[22.3,14.33],[22.51,14.09],[22.18,13.79],[22.3,13.37],[22.04,12.96],[21.94,12.59],[22.29,12.65],[22.5,12.26],[22.51,11.68],[22.88,11.38],[22.86,11.14],[22.23,10.97],[21.72,10.57],[21,9.48],[20.06,9.01],[19.09,9.07],[18.81,8.98],[18.91,8.63],[18.39,8.28],[17.96,7.89],[16.71,7.51],[16.46,7.73],[16.29,7.75],[16.11,7.5],[15.28,7.42],[15.44,7.69],[15.12,8.38],[14.98,8.8],[14.54,8.97],[13.95,9.55],[14.17,10.02],[14.63,9.92],[14.91,9.99],[15.47,9.98],[14.92,10.89],[14.96,11.56],[14.89,12.22],[14.5,12.86]];
var TGO=[[1.87,6.14],[1.06,5.93],[.84,6.28],[.57,6.91],[.49,7.41],[.71,8.31],[.46,8.68],[.37,9.47],[.37,10.19],[-.05,10.71],[.02,11.02],[.9,11],[.77,10.47],[1.08,10.18],[1.43,9.83],[1.46,9.33],[1.66,9.13],[1.62,6.83],[1.87,6.14]];
var TUN=[[9.48,30.31],[9.06,32.1],[8.44,32.51],[8.43,32.75],[7.61,33.34],[7.52,34.1],[8.14,34.66],[8.38,35.48],[8.22,36.43],[8.42,36.95],[9.51,37.35],[10.21,37.23],[10.18,36.72],[11.03,37.09],[11.1,36.9],[10.6,36.41],[10.59,35.95],[10.94,35.7],[10.81,34.83],[10.15,34.33],[10.34,33.79],[10.86,33.77],[11.11,33.29],[11.49,33.14],[11.43,32.37],[10.94,32.08],[10.64,31.76],[9.95,31.38],[10.06,30.96],[9.97,30.54],[9.48,30.31]];
var TZA=[[33.9,-.95],[34.07,-1.06],[37.7,-3.1],[37.77,-3.68],[39.2,-4.68],[38.74,-5.91],[38.8,-6.48],[39.44,-6.84],[39.47,-7.1],[39.19,-7.7],[39.25,-8.01],[39.19,-8.49],[39.54,-9.11],[39.95,-10.1],[40.32,-10.32],[39.52,-10.9],[38.43,-11.29],[37.83,-11.27],[37.47,-11.57],[36.78,-11.59],[36.51,-11.72],[35.31,-11.44],[34.56,-11.52],[34.28,-10.16],[33.94,-9.69],[33.74,-9.42],[32.76,-9.23],[32.19,-8.93],[31.56,-8.76],[31.16,-8.59],[30.74,-8.34],[30.2,-7.08],[29.62,-6.52],[29.42,-5.94],[29.52,-5.42],[29.34,-4.5],[29.75,-4.45],[30.12,-4.09],[30.51,-3.57],[30.75,-3.36],[30.74,-3.03],[30.53,-2.81],[30.47,-2.41],[30.76,-2.29],[30.82,-1.7],[30.42,-1.13],[30.77,-1.01],[31.87,-1.03],[33.9,-.95]];
var UGA=[[31.87,-1.03],[30.77,-1.01],[30.42,-1.13],[29.82,-1.44],[29.58,-1.34],[29.59,-.59],[29.82,-.21],[29.88,.6],[30.09,1.06],[30.47,1.58],[30.85,1.85],[31.17,2.2],[30.77,2.34],[30.83,3.51],[31.25,3.78],[31.88,3.56],[32.69,3.79],[33.39,3.79],[34.01,4.25],[34.48,3.56],[34.6,3.05],[35.04,1.91],[34.67,1.18],[34.18,.52],[33.89,.11],[33.9,-.95],[31.87,-1.03]];
var ZAF=[[31.52,-29.26],[31.33,-29.4],[30.9,-29.91],[30.62,-30.42],[30.06,-31.14],[28.93,-32.17],[28.22,-32.77],[27.46,-33.23],[26.42,-33.61],[25.91,-33.67],[25.78,-33.94],[25.17,-33.8],[24.68,-33.99],[23.59,-33.79],[22.99,-33.92],[22.57,-33.86],[21.54,-34.26],[20.69,-34.42],[20.07,-34.8],[19.62,-34.82],[19.19,-34.46],[18.86,-34.44],[18.42,-34],[18.38,-34.14],[18.24,-33.87],[18.25,-33.28],[17.93,-32.61],[18.25,-32.43],[18.22,-31.66],[17.57,-30.73],[17.06,-29.88],[16.34,-28.58],[16.82,-28.08],[17.22,-28.36],[17.39,-28.78],[17.84,-28.86],[18.46,-29.05],[19,-28.97],[19.89,-28.46],[19.9,-24.77],[20.17,-24.92],[20.76,-25.87],[20.67,-26.48],[20.89,-26.83],[21.61,-26.73],[22.11,-26.28],[22.58,-25.98],[22.82,-25.5],[23.31,-25.27],[23.73,-25.39],[24.21,-25.67],[25.03,-25.72],[25.66,-25.49],[25.77,-25.17],[25.94,-24.7],[26.49,-24.62],[26.79,-24.24],[27.12,-23.57],[28.02,-22.83],[29.43,-22.09],[29.84,-22.1],[30.32,-22.27],[30.66,-22.15],[31.19,-22.25],[31.67,-23.66],[31.93,-24.37],[31.75,-25.48],[31.84,-25.84],[31.33,-25.66],[31.04,-25.73],[30.95,-26.02],[30.68,-26.4],[30.69,-26.74],[31.28,-27.29],[31.87,-27.18],[32.07,-26.73],[32.83,-26.74],[32.58,-27.47],[32.46,-28.3],[32.2,-28.75],[31.52,-29.26]];
var ZMB=[[32.76,-9.23],[33.23,-9.68],[33.49,-10.53],[33.32,-10.8],[33.11,-11.61],[33.31,-12.44],[32.99,-12.78],[32.69,-13.71],[33.21,-13.97],[30.18,-14.8],[30.27,-15.51],[29.52,-15.64],[28.95,-16.04],[28.83,-16.39],[28.47,-16.47],[27.6,-17.29],[27.04,-17.94],[26.71,-17.96],[26.38,-17.85],[25.26,-17.74],[25.08,-17.66],[25.08,-17.58],[24.68,-17.35],[24.03,-17.3],[23.22,-17.52],[22.56,-16.9],[21.89,-16.08],[21.93,-12.9],[24.02,-12.91],[23.93,-12.57],[24.08,-12.19],[23.9,-11.72],[24.02,-11.24],[23.91,-10.93],[24.26,-10.95],[24.31,-11.26],[24.78,-11.24],[25.42,-11.33],[25.75,-11.78],[26.55,-11.92],[27.16,-11.61],[27.39,-12.13],[28.16,-12.27],[28.52,-12.7],[28.93,-13.25],[29.7,-13.26],[29.62,-12.18],[29.34,-12.36],[28.64,-11.97],[28.37,-11.79],[28.5,-10.79],[28.67,-9.61],[28.45,-9.16],[28.73,-8.53],[29,-8.41],[30.35,-8.24],[30.74,-8.34],[31.16,-8.59],[31.56,-8.76],[32.19,-8.93],[32.76,-9.23]];
var ZWE=[[31.19,-22.25],[30.66,-22.15],[30.32,-22.27],[29.84,-22.1],[29.43,-22.09],[28.79,-21.64],[28.02,-21.49],[27.73,-20.85],[27.72,-20.5],[27.3,-20.39],[26.16,-19.29],[25.85,-18.71],[25.65,-18.54],[25.26,-17.74],[26.38,-17.85],[26.71,-17.96],[27.04,-17.94],[27.6,-17.29],[28.47,-16.47],[28.83,-16.39],[28.95,-16.04],[29.52,-15.64],[30.27,-15.51],[30.34,-15.88],[31.17,-15.86],[31.64,-16.07],[31.85,-16.32],[32.33,-16.39],[32.85,-16.71],[32.85,-17.98],[32.65,-18.67],[32.61,-19.42],[32.77,-19.72],[32.66,-20.3],[32.51,-20.4],[32.24,-21.12],[31.19,-22.25]];

// islands big enough to show an outline
var BIOKO=[[8.45,3.3],[8.95,3.25],[8.95,3.7],[8.65,3.78],[8.45,3.3]];
var ZANZIBAR=[[39.2,-6.05],[39.5,-6.4],[39.55,-6.2],[39.3,-5.75],[39.2,-6.05]];
var PEMBA=[[39.65,-5.4],[39.85,-5.35],[39.85,-4.95],[39.65,-5.1],[39.65,-5.4]];
var MAFIA=[[39.6,-8],[39.9,-7.75],[39.85,-7.65],[39.6,-8]];
var GRANDE=[[43.25,-11.4],[43.45,-11.4],[43.5,-11.9],[43.3,-11.85],[43.25,-11.4]];
// the smallest ones are just dots
var islandDots=[[-24.9,16.9],[-24.3,16.6],[-23,16.75],[-22.9,16.1],[-23.6,15.1],[-24.4,14.9],[-23.2,15.2],[7.4,1.6],[6.6,.25],[5.6,-1.43],[43.8,-12.25],[44.3,-12.2],[45.15,-12.85],[37.75,-46.9]];

// cluster membership
var cluster1=[AGO,CABINDA,ZMB,ZWE,BWA,NAM,ZAF,LSO,SWZ,MOZ,MWI,TZA,ZANZIBAR,PEMBA,MAFIA];
var cluster2=[GAB,COG,COD,GNQ,BIOKO,UGA,RWA,BDI,KEN,SOM];
var cluster3=[MRT,MLI,NER,TCD,NGA,BEN,BFA,SEN,GMB,GNB,GIN,SLE,ERI];
var cluster4=[LBR,CIV,GHA,TGO,CMR,CAF,SSD,ETH];
var clusterNA=[MAR,ESH,DZA,TUN,LBY,EGY,SDN,DJI,SOL,MDG,GRANDE];

var legendLabels=["1","2","3","4","NA"];
var colors=["#DB0019","#2C69A7","#3FA338","#84358F","#EFEFEF"];

var lonTicks=[-20,0,20,40];
var lonLabels=["20°W","0°","20°E","40°E"];
var latTicks=[40,20,0,-20,-40];
var latLabels=["40°N","20°N","0°","20°S","40°S"];

// weeks the fitted curves were read at
var weeks=[1,3,5,7,10,13,16,19,22,25,28,31,34,37,40,43,46,49,52];
var weekTicks=[1,10,20,30,40,52];

var red1=[1.42,1.47,1.40,1.24,.78,.22,-.28,-.62,-.78,-.80,-.80,-.82,-.74,-.68,-.60,-.25,.20,.70,1.33];
var red2=[1.23,1.38,1.40,1.27,.82,.25,-.30,-.75,-1.03,-1.20,-1.24,-1.12,-.82,-.48,-.13,.18,.50,.80,1.10];
var red3=[1.23,1.33,1.34,1.22,.75,.18,-.28,-.60,-.72,-.70,-.68,-.70,-.76,-.78,-.70,-.45,-.02,.50,1.08];
var red4=[1.17,1.18,1.08,.92,.58,.12,-.30,-.62,-.80,-.92,-1.03,-1.08,-1.03,-.82,-.50,-.12,.28,.62,.90];
var red5=[.97,1.06,1.08,1.05,.88,.55,.12,-.30,-.58,-.56,-.53,-.52,-.57,-.65,-.70,-.50,-.08,.40,.88];
var red6=[.94,1.02,1.05,1.03,.90,.60,.20,-.25,-.50,-.58,-.62,-.60,-.58,-.45,-.10,.20,.45,.62,.70];
var red7=[.74,.93,1.03,1.13,1.00,.65,.18,-.24,-.55,-.70,-.72,-.65,-.58,-.42,-.15,.15,.48,.78,1.08];
var red8=[.74,.80,.82,.78,.58,.25,-.12,-.42,-.63,-.66,-.62,-.50,-.52,-.68,-.72,-.40,.05,.55,.87];
var red9=[.73,.75,.72,.64,.42,.12,-.22,-.55,-.68,-.58,-.53,-.53,-.58,-.66,-.63,-.30,.12,.58,.85];
var red10=[.70,.68,.60,.48,.25,-.03,-.42,-.68,-.75,-.72,-.68,-.70,-.78,-.76,-.42,-.05,.30,.55,.67];
var red11=[.97,1.07,1.07,1.00,.78,.42,0,-.40,-.65,-.68,-.60,-.50,-.55,-.62,-.72,-.60,-.22,.14,.54];
var red12=[.72,.72,.68,.58,.36,.05,-.30,-.62,-.80,-.80,-.72,-.62,-.42,-.20,.02,.28,.52,.66,.72];

var blue1=[.56,.48,.46,.48,.56,.60,.50,.22,-.05,-.25,-.37,-.30,-.05,.35,.82,.85,.45,-.12,-.70];
var blue2=[.27,.07,.03,.12,.42,.72,.62,.15,-.50,-1.10,-1.48,-1.38,-.80,-.02,.75,1.02,.72,.15,-.45];
var blue3=[.155,.05,.03,.08,.38,.68,.60,.22,-.42,-1.00,-1.32,-1.25,-.70,.05,.72,1.12,.98,.30,-.30];
var blue4=[-.19,-.25,-.22,-.02,.40,.72,.92,.72,.25,-.32,-.85,-1.02,-.65,0,.78,1.20,1.00,.28,-.38];
var blue5=[-.23,-.35,-.33,-.15,.30,.68,.82,.60,-.02,-.68,-1.15,-1.35,-1.02,-.28,.55,1.13,1.05,.35,-.27];
var blue6=[-.39,-.60,-.60,-.48,-.02,.48,.78,.72,.22,-.50,-1.10,-1.36,-1.05,-.35,.48,1.08,1.00,.30,-.10];
var blue7=[-.56,-.75,-.78,-.55,-.10,.42,.72,.80,.42,-.25,-.95,-1.42,-1.30,-.75,.05,.72,.98,.75,.39];
var blue8=[-.67,-.88,-.92,-.68,-.15,.35,.55,.52,.12,-.48,-1.20,-1.60,-1.35,-.72,.02,.55,.77,.55,.24];
var blue9=[-.83,-.97,-.95,-.72,-.28,.18,.46,.48,.28,-.12,-.42,-.52,-.30,.02,.35,.58,.70,.70,.60];
var blue10=[-.83,-.96,-.92,-.70,-.18,.28,.50,.52,.10,-.42,-1.00,-1.55,-1.45,-.90,-.25,.35,.58,.30,-.10];

var green1=[-.45,-.24,-.12,-.11,-.28,-.53,-.68,-.72,-.48,.20,.95,1.42,1.50,1.22,.58,-.02,-.52,-.80,-.70];
var green2=[-.53,-.33,-.21,-.20,-.30,-.50,-.62,-.62,-.25,.42,1.15,1.62,1.58,1.15,.48,-.18,-.65,-.85,-.78];
var green3=[-.56,-.45,-.37,-.37,-.47,-.63,-.72,-.73,-.42,.30,1.05,1.45,1.52,1.30,.70,.05,-.48,-.72,-.55];
var green4=[-.62,-.46,-.36,-.36,-.46,-.60,-.66,-.60,-.15,.50,1.15,1.60,1.58,1.18,.50,-.15,-.62,-.78,-.72];
var green5=[-.66,-.50,-.41,-.42,-.52,-.64,-.66,-.58,-.22,.46,1.22,1.69,1.62,1.15,.42,-.22,-.65,-.76,-.65];
var green6=[-.70,-.52,-.43,-.42,-.52,-.62,-.64,-.56,-.20,.48,1.10,1.36,1.35,1.22,.75,.12,-.42,-.72,-.60];
var green7=[-.76,-.62,-.53,-.52,-.58,-.68,-.72,-.68,-.40,.25,.95,1.30,1.35,1.18,.60,-.02,-.50,-.78,-.80];
var green8=[-.82,-.66,-.56,-.55,-.58,-.65,-.70,-.72,-.48,.16,.85,1.16,1.15,1.02,.62,.08,-.42,-.75,-.85];
var green9=[-.92,-.78,-.67,-.62,-.60,-.58,-.52,-.38,-.08,.45,1.02,1.24,1.22,1.00,.38,-.28,-.70,-.92,-.92];
var green10=[-.95,-1.00,-.98,-.92,-.75,-.62,-.40,-.10,.22,.62,1.00,1.34,1.48,1.25,.55,-.10,-.58,-.84,-.98];
var green11=[-1.04,-1.04,-.98,-.90,-.78,-.62,-.42,-.15,.18,.58,1.02,1.38,1.38,1.05,.32,-.35,-.72,-.90,-1.00];
var green12=[-1.20,-1.18,-1.05,-.86,-.52,-.25,.02,.25,.52,.78,1.10,1.38,1.40,1.00,.25,-.40,-.78,-1.00,-1.18];
var green13=[-1.27,-1.25,-1.12,-.92,-.55,-.25,.02,.27,.52,.82,1.15,1.42,1.30,.88,.12,-.45,-.82,-1.05,-1.23];

var purple1=[-.97,-1.08,-1.09,-.92,-.52,-.02,.38,.53,.52,.42,.35,.38,.52,.66,.62,.20,-.35,-.78,-1.10];
var purple2=[-1.20,-1.28,-1.20,-.95,-.42,.12,.52,.66,.52,.30,.20,.32,.68,1.00,1.12,.72,.10,-.42,-.87];
var purple3=[-1.30,-1.25,-1.05,-.78,-.30,.15,.40,.52,.50,.45,.72,1.05,1.25,1.28,1.00,.45,-.28,-.85,-1.17];
var purple4=[-1.35,-1.30,-1.12,-.85,-.38,.08,.40,.48,.50,.45,.55,.90,1.18,1.15,.85,.25,-.45,-1.00,-1.40];
var purple5=[-1.22,-1.22,-1.10,-.85,-.35,.08,.30,.45,.48,.42,.62,.85,.97,.88,.62,.15,-.45,-.90,-1.24];
var purple6=[-1.30,-1.30,-1.12,-.82,-.28,.15,.42,.52,.48,.45,.48,.66,.85,.87,.60,.18,-.38,-.85,-1.10];
var purple7=[-1.53,-1.60,-1.48,-1.15,-.50,.02,.22,.30,.38,.42,.34,.40,.58,.68,.58,.10,-.48,-.95,-1.45];
var purple8=[-1.52,-1.48,-1.32,-1.05,-.68,-.32,-.05,.15,.30,.42,.35,.37,.50,.60,.55,.12,-.38,-.80,-1.15];

// d3.format gives a real minus, the original has plain hyphens
function hyphen(f){return function(d){return f(d).replace("\u2212","-");};}

var panelData=[
  {title:"1",color:colors[0],lines:[red1,red2,red3,red4,red5,red6,red7,red8,red9,red10,red11,red12],ticks:[1.5,1,.5,0,-.5,-1],fmt:hyphen(d3.format(".1f")),x0:1131.8,top:228.2,y0:509.5,unit:175.3,showX:false},
  {title:"2",color:colors[1],lines:[blue1,blue2,blue3,blue4,blue5,blue6,blue7,blue8,blue9,blue10],ticks:[1,0,-1],fmt:hyphen(d3.format("d")),x0:1797.8,top:228.2,y0:455.5,unit:169.5,showX:false},
  {title:"3",color:colors[2],lines:[green1,green2,green3,green4,green5,green6,green7,green8,green9,green10,green11,green12,green13],ticks:[1,0,-1],fmt:hyphen(d3.format("d")),x0:1131.8,top:845.5,y0:1139.3,unit:160.2,showX:true},
  {title:"4",color:colors[3],lines:[purple1,purple2,purple3,purple4,purple5,purple6,purple7,purple8],ticks:[1,0,-1],fmt:hyphen(d3.format("d")),x0:1797.8,top:845.5,y0:1079,unit:163.6,showX:true}
];

var W=2400,H=1500;
var gridCol="#E8E8E8",tickCol="#4D4D4D",borderCol="#4D4D4D";

var svg=d3.select("#chart").append("svg").attr("width",W).attr("height",H).style("display","block");
svg.append("rect").attr("width",W).attr("height",H).attr("fill","#fff");

function label(x,y,txt,size,opts){
  opts=opts||{};
  return svg.append("text").attr("x",x).attr("y",y).text(txt)
    .attr("font-size",size)
    .attr("text-anchor",opts.anchor||"middle")
    .attr("font-weight",opts.weight||"normal")
    .attr("fill",opts.fill||"#000");
}

// ---- panel tags and titles
label(42,62,"A",57,{weight:"bold"});
label(1001,62,"B",57,{weight:"bold"});
label(532,134,"Clustering of countries based",55);
label(532,194,"on seasonal precipitation",55);
label(1754,63,"Fourier series fitted to weekly",55);
label(1754,122,"precipitation (2014-2024)",55);

// ---- map
var mapLeft=127,mapRight=937,mapTop=294,mapBottom=1192;
var xMap=d3.scaleLinear().domain([0,40]).range([407.3,792.3]);
var yMap=d3.scaleLinear().domain([0,40]).range([693,308]);
var mapG=svg.append("g");

mapG.selectAll("line.gx").data(lonTicks).enter().append("line").attr("class","gx")
  .attr("x1",xMap).attr("x2",xMap).attr("y1",mapTop).attr("y2",mapBottom)
  .attr("stroke",gridCol).attr("stroke-width",4.5);
mapG.selectAll("line.gy").data(latTicks).enter().append("line").attr("class","gy")
  .attr("y1",yMap).attr("y2",yMap).attr("x1",mapLeft).attr("x2",mapRight)
  .attr("stroke",gridCol).attr("stroke-width",4.5);

var outline=d3.line().x(function(d){return xMap(d[0]);}).y(function(d){return yMap(d[1]);}).curve(d3.curveLinearClosed);
var groups=[cluster1,cluster2,cluster3,cluster4,clusterNA];
// NA first so the coloured countries sit on top, as in the original
[4,0,1,2,3].forEach(function(i){
  mapG.append("g").selectAll("path").data(groups[i]).enter().append("path")
    .attr("d",outline).attr("fill",colors[i])
    .attr("stroke",borderCol).attr("stroke-width",2.6).attr("stroke-linejoin","round");
});
mapG.selectAll("circle").data(islandDots).enter().append("circle")
  .attr("cx",function(d){return xMap(d[0]);}).attr("cy",function(d){return yMap(d[1]);})
  .attr("r",1.9).attr("fill",borderCol);

lonTicks.forEach(function(t,i){label(xMap(t),1234,lonLabels[i],36,{fill:tickCol});});
latTicks.forEach(function(t,i){label(106,yMap(t)+13,latLabels[i],36,{anchor:"end",fill:tickCol});});

// ---- legend
label(97,1363,"Cluster",46,{anchor:"start"});
var keyX=[266.6,405,543.4,681.8,820];
var labelX=[362,500,638,775.5,914];
legendLabels.forEach(function(t,i){
  svg.append("rect").attr("x",keyX[i]+2.5).attr("y",1314.5).attr("width",65.5).attr("height",65.5)
    .attr("fill",colors[i]).attr("stroke",borderCol).attr("stroke-width",5);
  label(labelX[i],1361,t,36,{anchor:"start"});
});

// ---- facets
var panelW=579,panelH=522;
panelData.forEach(function(p){
  var xWeek=d3.scaleLinear().domain([1,52]).range([p.x0+26.3,p.x0+panelW-26.3]);
  var yZ=d3.scaleLinear().domain([0,1]).range([p.y0,p.y0-p.unit]);
  var g=svg.append("g");

  g.selectAll("line.vg").data(weekTicks).enter().append("line").attr("class","vg")
    .attr("x1",xWeek).attr("x2",xWeek).attr("y1",p.top).attr("y2",p.top+panelH)
    .attr("stroke",gridCol).attr("stroke-width",4.5);
  g.selectAll("line.hg").data(p.ticks).enter().append("line").attr("class","hg")
    .attr("y1",yZ).attr("y2",yZ).attr("x1",p.x0).attr("x2",p.x0+panelW)
    .attr("stroke",gridCol).attr("stroke-width",4.5);

  g.append("line").attr("x1",p.x0).attr("x2",p.x0+panelW).attr("y1",yZ(0)).attr("y2",yZ(0))
    .attr("stroke","#000").attr("stroke-width",4.2);

  var line=d3.line().x(function(d,i){return xWeek(weeks[i]);}).y(function(d){return yZ(d);}).curve(d3.curveCatmullRom.alpha(.5));
  g.selectAll("path.series").data(p.lines).enter().append("path").attr("class","series")
    .attr("d",line).attr("fill","none").attr("stroke",p.color).attr("stroke-width",4);

  var yAxis=d3.axisLeft(yZ).tickValues(p.ticks).tickFormat(p.fmt).tickSize(0).tickPadding(0);
  var ya=g.append("g").attr("transform","translate("+(p.x0-23)+",0)").call(yAxis);
  ya.select(".domain").remove();
  ya.selectAll("text").attr("font-size",34).attr("font-family","Liberation Sans").attr("fill",tickCol).attr("dy",".36em");

  if(p.showX){
    var xa=g.append("g").attr("transform","translate(0,1414)").call(d3.axisBottom(xWeek).tickValues(weekTicks).tickFormat(d3.format("d")).tickSize(0).tickPadding(0));
    xa.select(".domain").remove();
    xa.selectAll("text").attr("font-size",34).attr("font-family","Liberation Sans").attr("fill",tickCol).attr("dy",0).attr("y",0);
  }
  label(p.x0+panelW/2,p.top-23,p.title,33);
});

label(1754,1466,"Week",45);
svg.append("text").attr("transform","translate(1015,801) rotate(-90)").attr("text-anchor","middle")
  .attr("font-size",45).text("Z-score");
</script>
</body>
</html>
